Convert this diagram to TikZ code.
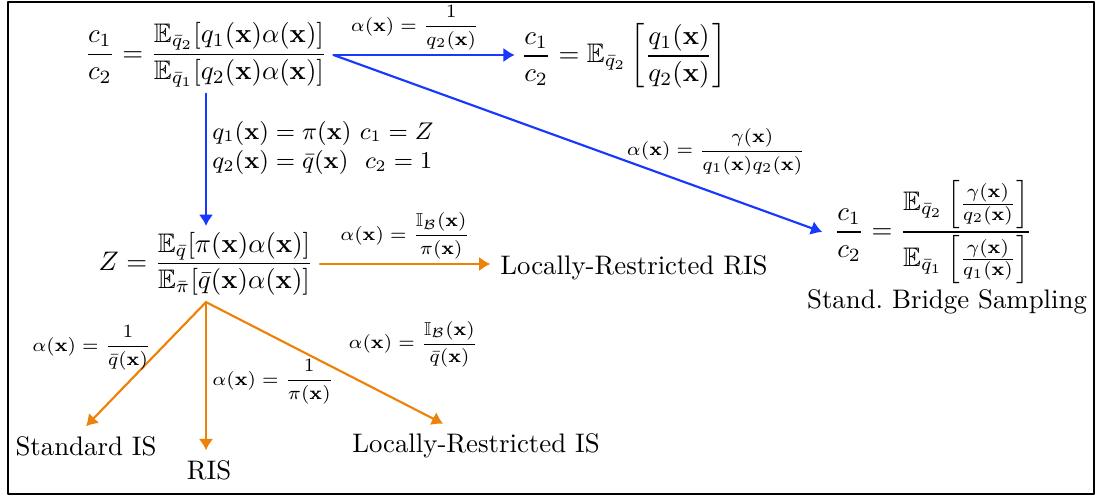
\documentclass[tikz,border=0pt]{standalone}
\usepackage{amsmath,amssymb}
\usetikzlibrary{arrows.meta}
\definecolor{bsBlue}{RGB}{22,56,255}
\definecolor{isOrange}{RGB}{236,130,8}
\newcommand{\vx}{\mathbf{x}}
\begin{document}
\begin{tikzpicture}[
	>={Latex[length=4.2pt,width=5.4pt]},
	thick,
	line cap=round,
	line join=round,
	x=0.01311cm,y=-0.01311cm,
	eq/.style={inner sep=2pt},
	lbl/.style={font=\scriptsize,inner sep=1.5pt,black}
	]
	\useasboundingbox (0,0) rectangle (1099,497);
	\draw[line width=1pt] (8,2) rectangle (1094,494);
	% equations
	\node[eq] (ratio) at (206,55) {$\displaystyle\frac{c_1}{c_2}=\frac{\mathbb{E}_{\bar q_2}[q_1(\vx)\alpha(\vx)]}{\mathbb{E}_{\bar q_1}[q_2(\vx)\alpha(\vx)]}$};
	\node[eq] (simple) at (624,56) {$\displaystyle\frac{c_1}{c_2}=\mathbb{E}_{\bar q_2}\left[\frac{q_1(\vx)}{q_2(\vx)}\right]$};
	\node[eq,inner sep=4pt] (bridge) at (933,232) {$\displaystyle\frac{c_1}{c_2}=\frac{\mathbb{E}_{\bar q_2}\left[\frac{\gamma(\vx)}{q_2(\vx)}\right]}{\mathbb{E}_{\bar q_1}\left[\frac{\gamma(\vx)}{q_1(\vx)}\right]}$};
	\node (bsName) at (947,302) {Stand.\ Bridge Sampling};
	\node[eq] (zeq) at (206,264) {$\displaystyle Z=\frac{\mathbb{E}_{\bar q}[\pi(\vx)\alpha(\vx)]}{\mathbb{E}_{\bar\pi}[\bar q(\vx)\alpha(\vx)]}$};
	\node (lrris) at (634,268) {Locally-Restricted RIS};
	\node (sis) at (86,446) {Standard IS};
	\node (ris) at (209,470) {RIS};
	\node (lris) at (476,446) {Locally-Restricted IS};
	% bridge sampling
	\begin{scope}[->,bsBlue]
		\draw (ratio.east) -- (ratio.east -| simple.west) node[lbl,pos=0.45,above] {$\alpha(\vx)=\dfrac{1}{q_2(\vx)}$};
		\draw (ratio.east) -- (bridge.west) node[lbl,pos=0.59,anchor=west,yshift=3pt] {$\alpha(\vx)=\dfrac{\gamma(\vx)}{q_1(\vx)q_2(\vx)}$};
		\draw (ratio.south) -- (zeq.north) node[pos=0.41,right,inner sep=2pt,black,font=\small,align=left] {$q_1(\vx)=\pi(\vx)$\ $c_1=Z$\\ $q_2(\vx)=\bar q(\vx)$\ \ $c_2=1$};
	\end{scope}
	% importance sampling
	\begin{scope}[->,isOrange]
		\draw (zeq.east) -- (zeq.east -| lrris.west) node[lbl,midway,above] {$\alpha(\vx)=\dfrac{\mathbb{I}_{\mathcal{B}}(\vx)}{\pi(\vx)}$};
		\draw (zeq.south) -- (sis.north) node[lbl,pos=0.37,left,xshift=-2pt] {$\alpha(\vx)=\dfrac{1}{\bar q(\vx)}$};
		\draw (zeq.south) -- (zeq.south |- ris.north) node[lbl,pos=0.54,right,inner sep=2pt] {$\alpha(\vx)=\dfrac{1}{\pi(\vx)}$};
		\draw (zeq.south) -- ([xshift=-0.43cm]lris.north) node[lbl,pos=0.58,above right] {$\alpha(\vx)=\dfrac{\mathbb{I}_{\mathcal{B}}(\vx)}{\bar q(\vx)}$};
	\end{scope}
\end{tikzpicture}
\end{document}
